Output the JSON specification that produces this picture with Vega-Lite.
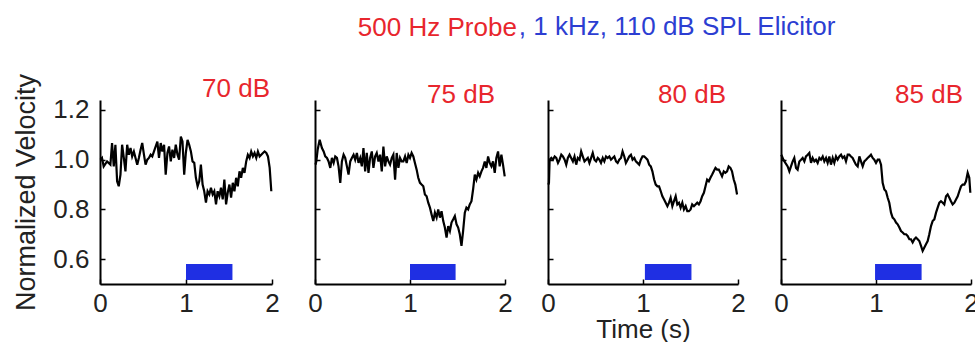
{
  "$schema": "https://vega.github.io/schema/vega-lite/v6.json",
  "padding": {"left": 12, "top": 14, "right": 0, "bottom": 0},
  "background": "white",
  "title": {"text": "500 Hz Probe", "color": "#e8262d", "anchor": "start", "frame": "bounds", "dx": 345, "dy": 48, "fontSize": 26, "baseline": "alphabetic", "offset": 0},
  "datasets": {
    "lines": [
      {"p":"70 dB","t":0.005,"v":1.0},{"p":"70 dB","t":0.023,"v":1.007},{"p":"70 dB","t":0.043,"v":0.973},{"p":"70 dB","t":0.082,"v":0.993},{"p":"70 dB","t":0.121,"v":0.98},{"p":"70 dB","t":0.14,"v":1.067},{"p":"70 dB","t":0.16,"v":0.973},{"p":"70 dB","t":0.179,"v":1.06},{"p":"70 dB","t":0.199,"v":0.913},{"p":"70 dB","t":0.218,"v":0.893},{"p":"70 dB","t":0.238,"v":0.94},{"p":"70 dB","t":0.257,"v":1.06},{"p":"70 dB","t":0.277,"v":1.007},{"p":"70 dB","t":0.296,"v":0.953},{"p":"70 dB","t":0.316,"v":1.06},{"p":"70 dB","t":0.335,"v":1.02},{"p":"70 dB","t":0.355,"v":1.047},{"p":"70 dB","t":0.374,"v":1.013},{"p":"70 dB","t":0.394,"v":1.033},{"p":"70 dB","t":0.413,"v":1.007},{"p":"70 dB","t":0.433,"v":0.98},{"p":"70 dB","t":0.452,"v":1.007},{"p":"70 dB","t":0.472,"v":1.04},{"p":"70 dB","t":0.491,"v":1.067},{"p":"70 dB","t":0.511,"v":1.02},{"p":"70 dB","t":0.53,"v":0.98},{"p":"70 dB","t":0.55,"v":1.0},{"p":"70 dB","t":0.569,"v":1.007},{"p":"70 dB","t":0.589,"v":1.02},{"p":"70 dB","t":0.608,"v":1.013},{"p":"70 dB","t":0.628,"v":1.033},{"p":"70 dB","t":0.647,"v":1.053},{"p":"70 dB","t":0.667,"v":1.073},{"p":"70 dB","t":0.686,"v":1.007},{"p":"70 dB","t":0.706,"v":1.067},{"p":"70 dB","t":0.725,"v":1.033},{"p":"70 dB","t":0.745,"v":1.06},{"p":"70 dB","t":0.764,"v":0.94},{"p":"70 dB","t":0.784,"v":1.027},{"p":"70 dB","t":0.803,"v":1.053},{"p":"70 dB","t":0.823,"v":0.993},{"p":"70 dB","t":0.842,"v":1.04},{"p":"70 dB","t":0.862,"v":1.007},{"p":"70 dB","t":0.881,"v":1.06},{"p":"70 dB","t":0.901,"v":1.02},{"p":"70 dB","t":0.92,"v":1.0},{"p":"70 dB","t":0.94,"v":1.093},{"p":"70 dB","t":0.959,"v":1.073},{"p":"70 dB","t":0.979,"v":0.94},{"p":"70 dB","t":0.998,"v":1.027},{"p":"70 dB","t":1.018,"v":1.08},{"p":"70 dB","t":1.037,"v":1.06},{"p":"70 dB","t":1.057,"v":1.033},{"p":"70 dB","t":1.076,"v":0.993},{"p":"70 dB","t":1.096,"v":0.987},{"p":"70 dB","t":1.115,"v":0.927},{"p":"70 dB","t":1.135,"v":0.893},{"p":"70 dB","t":1.154,"v":0.913},{"p":"70 dB","t":1.173,"v":0.98},{"p":"70 dB","t":1.193,"v":0.9},{"p":"70 dB","t":1.212,"v":0.873},{"p":"70 dB","t":1.232,"v":0.827},{"p":"70 dB","t":1.251,"v":0.873},{"p":"70 dB","t":1.271,"v":0.86},{"p":"70 dB","t":1.29,"v":0.887},{"p":"70 dB","t":1.31,"v":0.86},{"p":"70 dB","t":1.329,"v":0.873},{"p":"70 dB","t":1.349,"v":0.82},{"p":"70 dB","t":1.368,"v":0.873},{"p":"70 dB","t":1.388,"v":0.853},{"p":"70 dB","t":1.407,"v":0.887},{"p":"70 dB","t":1.427,"v":0.84},{"p":"70 dB","t":1.446,"v":0.92},{"p":"70 dB","t":1.466,"v":0.82},{"p":"70 dB","t":1.485,"v":0.867},{"p":"70 dB","t":1.505,"v":0.9},{"p":"70 dB","t":1.524,"v":0.847},{"p":"70 dB","t":1.544,"v":0.907},{"p":"70 dB","t":1.563,"v":0.873},{"p":"70 dB","t":1.583,"v":0.927},{"p":"70 dB","t":1.602,"v":0.893},{"p":"70 dB","t":1.622,"v":0.953},{"p":"70 dB","t":1.641,"v":0.927},{"p":"70 dB","t":1.661,"v":0.967},{"p":"70 dB","t":1.68,"v":0.947},{"p":"70 dB","t":1.7,"v":0.993},{"p":"70 dB","t":1.719,"v":1.02},{"p":"70 dB","t":1.739,"v":1.007},{"p":"70 dB","t":1.758,"v":1.033},{"p":"70 dB","t":1.778,"v":1.013},{"p":"70 dB","t":1.797,"v":1.027},{"p":"70 dB","t":1.817,"v":1.007},{"p":"70 dB","t":1.836,"v":1.033},{"p":"70 dB","t":1.856,"v":1.013},{"p":"70 dB","t":1.875,"v":1.02},{"p":"70 dB","t":1.895,"v":1.027},{"p":"70 dB","t":1.914,"v":1.033},{"p":"70 dB","t":1.934,"v":1.027},{"p":"70 dB","t":1.953,"v":1.013},{"p":"70 dB","t":1.973,"v":0.967},{"p":"70 dB","t":1.992,"v":0.873},

      {"p":"75 dB","t":0.005,"v":0.98},{"p":"75 dB","t":0.014,"v":0.993},{"p":"75 dB","t":0.028,"v":1.04},{"p":"75 dB","t":0.049,"v":1.08},{"p":"75 dB","t":0.073,"v":1.047},{"p":"75 dB","t":0.091,"v":1.033},{"p":"75 dB","t":0.108,"v":1.013},{"p":"75 dB","t":0.126,"v":1.007},{"p":"75 dB","t":0.143,"v":0.993},{"p":"75 dB","t":0.161,"v":0.967},{"p":"75 dB","t":0.178,"v":1.007},{"p":"75 dB","t":0.196,"v":0.987},{"p":"75 dB","t":0.213,"v":1.013},{"p":"75 dB","t":0.231,"v":1.007},{"p":"75 dB","t":0.248,"v":0.973},{"p":"75 dB","t":0.266,"v":0.907},{"p":"75 dB","t":0.283,"v":0.993},{"p":"75 dB","t":0.301,"v":1.02},{"p":"75 dB","t":0.318,"v":1.007},{"p":"75 dB","t":0.336,"v":0.973},{"p":"75 dB","t":0.353,"v":0.94},{"p":"75 dB","t":0.371,"v":0.993},{"p":"75 dB","t":0.388,"v":1.007},{"p":"75 dB","t":0.406,"v":1.02},{"p":"75 dB","t":0.423,"v":1.0},{"p":"75 dB","t":0.441,"v":1.027},{"p":"75 dB","t":0.458,"v":0.987},{"p":"75 dB","t":0.476,"v":1.007},{"p":"75 dB","t":0.493,"v":0.973},{"p":"75 dB","t":0.51,"v":1.047},{"p":"75 dB","t":0.528,"v":0.953},{"p":"75 dB","t":0.545,"v":1.027},{"p":"75 dB","t":0.563,"v":0.947},{"p":"75 dB","t":0.58,"v":1.007},{"p":"75 dB","t":0.598,"v":1.033},{"p":"75 dB","t":0.615,"v":0.967},{"p":"75 dB","t":0.633,"v":1.013},{"p":"75 dB","t":0.65,"v":1.027},{"p":"75 dB","t":0.668,"v":0.993},{"p":"75 dB","t":0.685,"v":1.02},{"p":"75 dB","t":0.703,"v":0.953},{"p":"75 dB","t":0.72,"v":1.053},{"p":"75 dB","t":0.738,"v":0.973},{"p":"75 dB","t":0.755,"v":1.013},{"p":"75 dB","t":0.773,"v":0.993},{"p":"75 dB","t":0.79,"v":0.98},{"p":"75 dB","t":0.808,"v":1.007},{"p":"75 dB","t":0.825,"v":1.02},{"p":"75 dB","t":0.843,"v":0.92},{"p":"75 dB","t":0.86,"v":1.027},{"p":"75 dB","t":0.878,"v":0.967},{"p":"75 dB","t":0.895,"v":1.007},{"p":"75 dB","t":0.913,"v":0.993},{"p":"75 dB","t":0.93,"v":0.993},{"p":"75 dB","t":0.948,"v":1.013},{"p":"75 dB","t":0.965,"v":0.987},{"p":"75 dB","t":0.983,"v":1.02},{"p":"75 dB","t":1.0,"v":1.007},{"p":"75 dB","t":1.017,"v":1.027},{"p":"75 dB","t":1.035,"v":1.013},{"p":"75 dB","t":1.052,"v":0.987},{"p":"75 dB","t":1.07,"v":0.96},{"p":"75 dB","t":1.087,"v":0.927},{"p":"75 dB","t":1.105,"v":0.907},{"p":"75 dB","t":1.122,"v":0.9},{"p":"75 dB","t":1.14,"v":0.893},{"p":"75 dB","t":1.157,"v":0.86},{"p":"75 dB","t":1.175,"v":0.853},{"p":"75 dB","t":1.192,"v":0.827},{"p":"75 dB","t":1.21,"v":0.807},{"p":"75 dB","t":1.227,"v":0.78},{"p":"75 dB","t":1.245,"v":0.753},{"p":"75 dB","t":1.262,"v":0.787},{"p":"75 dB","t":1.28,"v":0.767},{"p":"75 dB","t":1.297,"v":0.8},{"p":"75 dB","t":1.315,"v":0.767},{"p":"75 dB","t":1.332,"v":0.793},{"p":"75 dB","t":1.35,"v":0.753},{"p":"75 dB","t":1.367,"v":0.727},{"p":"75 dB","t":1.385,"v":0.687},{"p":"75 dB","t":1.402,"v":0.733},{"p":"75 dB","t":1.42,"v":0.713},{"p":"75 dB","t":1.437,"v":0.747},{"p":"75 dB","t":1.455,"v":0.76},{"p":"75 dB","t":1.472,"v":0.773},{"p":"75 dB","t":1.49,"v":0.74},{"p":"75 dB","t":1.507,"v":0.727},{"p":"75 dB","t":1.524,"v":0.7},{"p":"75 dB","t":1.542,"v":0.653},{"p":"75 dB","t":1.559,"v":0.713},{"p":"75 dB","t":1.577,"v":0.787},{"p":"75 dB","t":1.594,"v":0.807},{"p":"75 dB","t":1.612,"v":0.8},{"p":"75 dB","t":1.629,"v":0.82},{"p":"75 dB","t":1.647,"v":0.833},{"p":"75 dB","t":1.664,"v":0.88},{"p":"75 dB","t":1.682,"v":0.94},{"p":"75 dB","t":1.699,"v":0.92},{"p":"75 dB","t":1.717,"v":0.947},{"p":"75 dB","t":1.734,"v":0.933},{"p":"75 dB","t":1.752,"v":0.953},{"p":"75 dB","t":1.769,"v":0.967},{"p":"75 dB","t":1.787,"v":0.993},{"p":"75 dB","t":1.804,"v":0.967},{"p":"75 dB","t":1.822,"v":1.013},{"p":"75 dB","t":1.839,"v":0.987},{"p":"75 dB","t":1.857,"v":0.973},{"p":"75 dB","t":1.874,"v":0.993},{"p":"75 dB","t":1.892,"v":0.947},{"p":"75 dB","t":1.909,"v":1.007},{"p":"75 dB","t":1.927,"v":1.033},{"p":"75 dB","t":1.944,"v":0.973},{"p":"75 dB","t":1.962,"v":1.02},{"p":"75 dB","t":1.979,"v":0.98},{"p":"75 dB","t":1.997,"v":0.933},

      {"p":"80 dB","t":0.003,"v":0.9},{"p":"80 dB","t":0.01,"v":0.907},{"p":"80 dB","t":0.017,"v":1.0},{"p":"80 dB","t":0.035,"v":1.007},{"p":"80 dB","t":0.052,"v":1.0},{"p":"80 dB","t":0.07,"v":1.013},{"p":"80 dB","t":0.087,"v":1.007},{"p":"80 dB","t":0.105,"v":0.987},{"p":"80 dB","t":0.122,"v":1.0},{"p":"80 dB","t":0.14,"v":1.02},{"p":"80 dB","t":0.157,"v":1.013},{"p":"80 dB","t":0.175,"v":1.0},{"p":"80 dB","t":0.192,"v":0.98},{"p":"80 dB","t":0.209,"v":1.007},{"p":"80 dB","t":0.227,"v":1.02},{"p":"80 dB","t":0.244,"v":1.007},{"p":"80 dB","t":0.262,"v":0.993},{"p":"80 dB","t":0.279,"v":1.013},{"p":"80 dB","t":0.297,"v":0.98},{"p":"80 dB","t":0.314,"v":1.007},{"p":"80 dB","t":0.332,"v":1.0},{"p":"80 dB","t":0.349,"v":1.033},{"p":"80 dB","t":0.366,"v":1.013},{"p":"80 dB","t":0.384,"v":0.993},{"p":"80 dB","t":0.401,"v":1.0},{"p":"80 dB","t":0.419,"v":1.007},{"p":"80 dB","t":0.436,"v":0.987},{"p":"80 dB","t":0.454,"v":1.007},{"p":"80 dB","t":0.471,"v":1.027},{"p":"80 dB","t":0.489,"v":1.0},{"p":"80 dB","t":0.506,"v":0.993},{"p":"80 dB","t":0.524,"v":1.007},{"p":"80 dB","t":0.541,"v":1.0},{"p":"80 dB","t":0.558,"v":0.987},{"p":"80 dB","t":0.576,"v":1.007},{"p":"80 dB","t":0.593,"v":0.993},{"p":"80 dB","t":0.611,"v":1.013},{"p":"80 dB","t":0.628,"v":1.007},{"p":"80 dB","t":0.646,"v":1.013},{"p":"80 dB","t":0.663,"v":1.0},{"p":"80 dB","t":0.681,"v":1.007},{"p":"80 dB","t":0.698,"v":1.013},{"p":"80 dB","t":0.716,"v":0.993},{"p":"80 dB","t":0.733,"v":0.987},{"p":"80 dB","t":0.75,"v":1.0},{"p":"80 dB","t":0.768,"v":1.007},{"p":"80 dB","t":0.785,"v":1.033},{"p":"80 dB","t":0.803,"v":1.013},{"p":"80 dB","t":0.82,"v":0.987},{"p":"80 dB","t":0.838,"v":1.0},{"p":"80 dB","t":0.855,"v":1.013},{"p":"80 dB","t":0.873,"v":1.02},{"p":"80 dB","t":0.89,"v":1.0},{"p":"80 dB","t":0.908,"v":1.007},{"p":"80 dB","t":0.925,"v":0.993},{"p":"80 dB","t":0.942,"v":0.987},{"p":"80 dB","t":0.96,"v":0.98},{"p":"80 dB","t":0.977,"v":1.0},{"p":"80 dB","t":0.995,"v":1.013},{"p":"80 dB","t":1.012,"v":1.013},{"p":"80 dB","t":1.03,"v":1.007},{"p":"80 dB","t":1.047,"v":1.0},{"p":"80 dB","t":1.065,"v":0.98},{"p":"80 dB","t":1.082,"v":0.973},{"p":"80 dB","t":1.099,"v":0.953},{"p":"80 dB","t":1.117,"v":0.92},{"p":"80 dB","t":1.134,"v":0.9},{"p":"80 dB","t":1.152,"v":0.893},{"p":"80 dB","t":1.169,"v":0.893},{"p":"80 dB","t":1.187,"v":0.873},{"p":"80 dB","t":1.204,"v":0.853},{"p":"80 dB","t":1.222,"v":0.84},{"p":"80 dB","t":1.239,"v":0.827},{"p":"80 dB","t":1.257,"v":0.813},{"p":"80 dB","t":1.274,"v":0.827},{"p":"80 dB","t":1.291,"v":0.847},{"p":"80 dB","t":1.309,"v":0.813},{"p":"80 dB","t":1.326,"v":0.833},{"p":"80 dB","t":1.344,"v":0.853},{"p":"80 dB","t":1.361,"v":0.82},{"p":"80 dB","t":1.379,"v":0.827},{"p":"80 dB","t":1.396,"v":0.807},{"p":"80 dB","t":1.414,"v":0.827},{"p":"80 dB","t":1.431,"v":0.8},{"p":"80 dB","t":1.449,"v":0.813},{"p":"80 dB","t":1.466,"v":0.793},{"p":"80 dB","t":1.483,"v":0.793},{"p":"80 dB","t":1.501,"v":0.8},{"p":"80 dB","t":1.518,"v":0.82},{"p":"80 dB","t":1.536,"v":0.813},{"p":"80 dB","t":1.553,"v":0.82},{"p":"80 dB","t":1.571,"v":0.827},{"p":"80 dB","t":1.588,"v":0.82},{"p":"80 dB","t":1.606,"v":0.833},{"p":"80 dB","t":1.623,"v":0.853},{"p":"80 dB","t":1.641,"v":0.867},{"p":"80 dB","t":1.658,"v":0.893},{"p":"80 dB","t":1.675,"v":0.92},{"p":"80 dB","t":1.693,"v":0.913},{"p":"80 dB","t":1.71,"v":0.927},{"p":"80 dB","t":1.728,"v":0.94},{"p":"80 dB","t":1.745,"v":0.953},{"p":"80 dB","t":1.763,"v":0.967},{"p":"80 dB","t":1.78,"v":0.96},{"p":"80 dB","t":1.798,"v":0.96},{"p":"80 dB","t":1.815,"v":0.947},{"p":"80 dB","t":1.832,"v":0.933},{"p":"80 dB","t":1.85,"v":0.953},{"p":"80 dB","t":1.867,"v":0.947},{"p":"80 dB","t":1.885,"v":0.953},{"p":"80 dB","t":1.902,"v":0.973},{"p":"80 dB","t":1.92,"v":0.967},{"p":"80 dB","t":1.937,"v":0.953},{"p":"80 dB","t":1.955,"v":0.92},{"p":"80 dB","t":1.972,"v":0.9},{"p":"80 dB","t":1.99,"v":0.86},

      {"p":"85 dB","t":0.003,"v":1.02},{"p":"85 dB","t":0.011,"v":1.013},{"p":"85 dB","t":0.025,"v":1.0},{"p":"85 dB","t":0.046,"v":0.987},{"p":"85 dB","t":0.07,"v":0.973},{"p":"85 dB","t":0.088,"v":0.953},{"p":"85 dB","t":0.105,"v":0.973},{"p":"85 dB","t":0.123,"v":0.993},{"p":"85 dB","t":0.14,"v":1.007},{"p":"85 dB","t":0.158,"v":0.967},{"p":"85 dB","t":0.175,"v":0.96},{"p":"85 dB","t":0.193,"v":0.993},{"p":"85 dB","t":0.211,"v":1.0},{"p":"85 dB","t":0.228,"v":1.007},{"p":"85 dB","t":0.246,"v":0.993},{"p":"85 dB","t":0.263,"v":1.013},{"p":"85 dB","t":0.281,"v":1.02},{"p":"85 dB","t":0.298,"v":1.027},{"p":"85 dB","t":0.316,"v":0.987},{"p":"85 dB","t":0.333,"v":1.007},{"p":"85 dB","t":0.351,"v":0.993},{"p":"85 dB","t":0.368,"v":1.0},{"p":"85 dB","t":0.386,"v":0.987},{"p":"85 dB","t":0.404,"v":1.007},{"p":"85 dB","t":0.421,"v":1.0},{"p":"85 dB","t":0.439,"v":1.013},{"p":"85 dB","t":0.456,"v":0.993},{"p":"85 dB","t":0.474,"v":1.007},{"p":"85 dB","t":0.491,"v":0.987},{"p":"85 dB","t":0.509,"v":1.013},{"p":"85 dB","t":0.526,"v":0.98},{"p":"85 dB","t":0.544,"v":1.007},{"p":"85 dB","t":0.561,"v":0.987},{"p":"85 dB","t":0.579,"v":1.013},{"p":"85 dB","t":0.596,"v":1.0},{"p":"85 dB","t":0.614,"v":1.013},{"p":"85 dB","t":0.632,"v":1.02},{"p":"85 dB","t":0.649,"v":1.007},{"p":"85 dB","t":0.667,"v":1.013},{"p":"85 dB","t":0.684,"v":0.993},{"p":"85 dB","t":0.702,"v":1.02},{"p":"85 dB","t":0.719,"v":1.02},{"p":"85 dB","t":0.737,"v":1.013},{"p":"85 dB","t":0.754,"v":1.007},{"p":"85 dB","t":0.772,"v":0.993},{"p":"85 dB","t":0.789,"v":0.98},{"p":"85 dB","t":0.807,"v":0.973},{"p":"85 dB","t":0.825,"v":1.013},{"p":"85 dB","t":0.842,"v":0.993},{"p":"85 dB","t":0.86,"v":0.973},{"p":"85 dB","t":0.877,"v":0.993},{"p":"85 dB","t":0.895,"v":1.0},{"p":"85 dB","t":0.912,"v":1.007},{"p":"85 dB","t":0.93,"v":1.013},{"p":"85 dB","t":0.947,"v":1.02},{"p":"85 dB","t":0.965,"v":1.007},{"p":"85 dB","t":0.982,"v":1.0},{"p":"85 dB","t":1.0,"v":0.987},{"p":"85 dB","t":1.018,"v":1.0},{"p":"85 dB","t":1.035,"v":1.0},{"p":"85 dB","t":1.053,"v":0.98},{"p":"85 dB","t":1.07,"v":0.907},{"p":"85 dB","t":1.088,"v":0.88},{"p":"85 dB","t":1.105,"v":0.873},{"p":"85 dB","t":1.123,"v":0.847},{"p":"85 dB","t":1.14,"v":0.827},{"p":"85 dB","t":1.158,"v":0.787},{"p":"85 dB","t":1.175,"v":0.767},{"p":"85 dB","t":1.193,"v":0.76},{"p":"85 dB","t":1.211,"v":0.747},{"p":"85 dB","t":1.228,"v":0.74},{"p":"85 dB","t":1.246,"v":0.727},{"p":"85 dB","t":1.263,"v":0.713},{"p":"85 dB","t":1.281,"v":0.707},{"p":"85 dB","t":1.298,"v":0.7},{"p":"85 dB","t":1.316,"v":0.7},{"p":"85 dB","t":1.333,"v":0.693},{"p":"85 dB","t":1.351,"v":0.68},{"p":"85 dB","t":1.368,"v":0.68},{"p":"85 dB","t":1.386,"v":0.667},{"p":"85 dB","t":1.404,"v":0.68},{"p":"85 dB","t":1.421,"v":0.687},{"p":"85 dB","t":1.439,"v":0.68},{"p":"85 dB","t":1.456,"v":0.673},{"p":"85 dB","t":1.474,"v":0.653},{"p":"85 dB","t":1.491,"v":0.633},{"p":"85 dB","t":1.509,"v":0.647},{"p":"85 dB","t":1.526,"v":0.66},{"p":"85 dB","t":1.544,"v":0.673},{"p":"85 dB","t":1.561,"v":0.7},{"p":"85 dB","t":1.579,"v":0.733},{"p":"85 dB","t":1.596,"v":0.753},{"p":"85 dB","t":1.614,"v":0.76},{"p":"85 dB","t":1.632,"v":0.787},{"p":"85 dB","t":1.649,"v":0.807},{"p":"85 dB","t":1.667,"v":0.827},{"p":"85 dB","t":1.684,"v":0.833},{"p":"85 dB","t":1.702,"v":0.827},{"p":"85 dB","t":1.719,"v":0.82},{"p":"85 dB","t":1.737,"v":0.853},{"p":"85 dB","t":1.754,"v":0.86},{"p":"85 dB","t":1.772,"v":0.847},{"p":"85 dB","t":1.789,"v":0.833},{"p":"85 dB","t":1.807,"v":0.82},{"p":"85 dB","t":1.825,"v":0.827},{"p":"85 dB","t":1.842,"v":0.84},{"p":"85 dB","t":1.86,"v":0.853},{"p":"85 dB","t":1.877,"v":0.873},{"p":"85 dB","t":1.895,"v":0.893},{"p":"85 dB","t":1.912,"v":0.9},{"p":"85 dB","t":1.93,"v":0.9},{"p":"85 dB","t":1.947,"v":0.913},{"p":"85 dB","t":1.965,"v":0.947},{"p":"85 dB","t":1.982,"v":0.927},{"p":"85 dB","t":1.993,"v":0.867}
    ],
    "stim": [
      {"p":"70 dB","t0":1.0,"t1":1.54},
      {"p":"75 dB","t0":1.0,"t1":1.48},
      {"p":"80 dB","t0":1.02,"t1":1.51},
      {"p":"85 dB","t0":0.99,"t1":1.48}
    ]
  },
  "vconcat": [
    {
      "title": {"text": ", 1 kHz, 110 dB SPL Elicitor", "color": "#2c3ed2", "anchor": "start", "frame": "bounds", "dx": 506, "fontSize": 26, "baseline": "alphabetic", "offset": 12},
      "spacing": 43,
      "bounds": "flush",
      "hconcat": [
        {
          "width": 172, "height": 184,
          "title": {"text": "70 dB", "frame": "group", "dx": -2, "dy": 31},
          "layer": [
            {"data": {"name": "lines"}, "transform": [{"filter": "datum.p == '70 dB'"}],
             "mark": {"type": "line", "color": "black", "strokeWidth": 2.2},
             "encoding": {
               "x": {"field": "t", "type": "quantitative", "scale": {"domain": [0, 2], "nice": false}, "axis": {"values": [0, 1, 2], "format": ".0f", "labelOverlap": false, "title": null}},
               "y": {"field": "v", "type": "quantitative", "scale": {"domain": [0.5, 1.24], "nice": false, "zero": false}, "axis": {"values": [0.6, 0.8, 1.0, 1.2], "format": ".1f", "labelOverlap": false, "labelPadding": 16, "title": "Normalized Velocity", "titleFontSize": 27}}
             }},
            {"data": {"name": "stim"}, "transform": [{"filter": "datum.p == '70 dB'"}],
             "mark": {"type": "rect", "color": "#1f2fe3"},
             "encoding": {"x": {"field": "t0", "type": "quantitative"}, "x2": {"field": "t1"}, "y": {"datum": 0.58}, "y2": {"datum": 0.516}}}
          ]
        },
        {
          "width": 190, "height": 184,
          "title": {"text": "75 dB", "frame": "group", "dx": -10, "dy": 10},
          "layer": [
            {"data": {"name": "lines"}, "transform": [{"filter": "datum.p == '75 dB'"}],
             "mark": {"type": "line", "color": "black", "strokeWidth": 2.2},
             "encoding": {
               "x": {"field": "t", "type": "quantitative", "scale": {"domain": [0, 2], "nice": false}, "axis": {"values": [0, 1, 2], "format": ".0f", "labelOverlap": false, "title": null}},
               "y": {"field": "v", "type": "quantitative", "scale": {"domain": [0.5, 1.24], "nice": false, "zero": false}, "axis": {"values": [0.6, 0.8, 1.0, 1.2], "labels": false, "title": null}}
             }},
            {"data": {"name": "stim"}, "transform": [{"filter": "datum.p == '75 dB'"}],
             "mark": {"type": "rect", "color": "#1f2fe3"},
             "encoding": {"x": {"field": "t0", "type": "quantitative"}, "x2": {"field": "t1"}, "y": {"datum": 0.58}, "y2": {"datum": 0.516}}}
          ]
        },
        {
          "width": 190, "height": 184,
          "title": {"text": "80 dB", "frame": "group", "dx": -12, "dy": 10},
          "layer": [
            {"data": {"name": "lines"}, "transform": [{"filter": "datum.p == '80 dB'"}],
             "mark": {"type": "line", "color": "black", "strokeWidth": 2.2},
             "encoding": {
               "x": {"field": "t", "type": "quantitative", "scale": {"domain": [0, 2], "nice": false}, "axis": {"values": [0, 1, 2], "format": ".0f", "labelOverlap": false, "title": "Time (s)", "titlePadding": 0}},
               "y": {"field": "v", "type": "quantitative", "scale": {"domain": [0.5, 1.24], "nice": false, "zero": false}, "axis": {"values": [0.6, 0.8, 1.0, 1.2], "labels": false, "title": null}}
             }},
            {"data": {"name": "stim"}, "transform": [{"filter": "datum.p == '80 dB'"}],
             "mark": {"type": "rect", "color": "#1f2fe3"},
             "encoding": {"x": {"field": "t0", "type": "quantitative"}, "x2": {"field": "t1"}, "y": {"datum": 0.58}, "y2": {"datum": 0.516}}}
          ]
        },
        {
          "width": 190, "height": 184,
          "title": {"text": "85 dB", "frame": "group", "dx": -8, "dy": 10},
          "layer": [
            {"data": {"name": "lines"}, "transform": [{"filter": "datum.p == '85 dB'"}],
             "mark": {"type": "line", "color": "black", "strokeWidth": 2.2},
             "encoding": {
               "x": {"field": "t", "type": "quantitative", "scale": {"domain": [0, 2], "nice": false}, "axis": {"values": [0, 1, 2], "format": ".0f", "labelOverlap": false, "title": null}},
               "y": {"field": "v", "type": "quantitative", "scale": {"domain": [0.5, 1.24], "nice": false, "zero": false}, "axis": {"values": [0.6, 0.8, 1.0, 1.2], "labels": false, "title": null}}
             }},
            {"data": {"name": "stim"}, "transform": [{"filter": "datum.p == '85 dB'"}],
             "mark": {"type": "rect", "color": "#1f2fe3"},
             "encoding": {"x": {"field": "t0", "type": "quantitative"}, "x2": {"field": "t1"}, "y": {"datum": 0.58}, "y2": {"datum": 0.516}}}
          ]
        }
      ]
    }
  ],
  "config": {
    "view": {"stroke": null},
    "font": "Liberation Sans",
    "axis": {"domainColor": "black", "domainWidth": 2, "tickColor": "black", "tickWidth": 1.5, "tickSize": -5, "labelFont": "Liberation Sans", "labelFontSize": 26, "labelColor": "#222", "labelFlush": false, "labelOverlap": false, "labelPadding": 11, "grid": false, "titleFont": "Liberation Sans", "titleFontSize": 26, "titleFontWeight": "normal", "titleColor": "#222", "titlePadding": 12},
    "title": {"font": "Liberation Sans", "fontSize": 26, "fontWeight": "normal", "color": "#e8262d", "anchor": "end", "baseline": "alphabetic", "offset": 2}
  }
}
